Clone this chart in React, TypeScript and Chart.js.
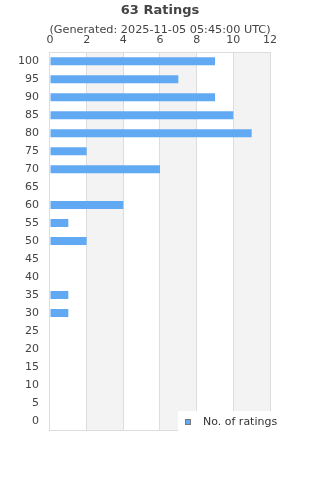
import React, { useEffect, useRef } from "react";
import { Chart, registerables } from "chart.js";

Chart.register(...registerables);

const categories = ["100", "95", "90", "85", "80", "75", "70", "65", "60", "55", "50", "45", "40", "35", "30", "25", "20", "15", "10", "5", "0"];
const counts = [9, 7, 9, 10, 11, 2, 6, 0, 4, 1, 2, 0, 0, 1, 1, 0, 0, 0, 0, 0, 0];
const seriesLabel = "No. of ratings";
const titleText = "63 Ratings";
const subtitleText = "(Generated: 2025-11-05 05:45:00 UTC)";
const xMax = 12;
const xStep = 2;

const FONT = "'DejaVu Sans', sans-serif";
const BAR = "rgb(98,169,243)";

const bandsPlugin = {
  id: "bands",
  beforeDraw(chart: any) {
    const { ctx, chartArea, scales } = chart;
    const x = scales.x;
    ctx.save();
    ctx.fillStyle = "#f3f3f3";
    for (let v = xStep; v < xMax; v += 2 * xStep) {
      const a = x.getPixelForValue(v);
      const b = x.getPixelForValue(v + xStep);
      ctx.fillRect(a, chartArea.top, b - a, chartArea.bottom - chartArea.top);
    }
    ctx.restore();
  },
  afterDraw(chart: any) {
    const { ctx, chartArea, width } = chart;
    ctx.save();
    // titles
    ctx.textAlign = "center";
    ctx.textBaseline = "middle";
    ctx.fillStyle = "#444444";
    ctx.font = `bold 13px ${FONT}`;
    ctx.fillText(titleText, width / 2, 11);
    ctx.font = `11.25px ${FONT}`;
    ctx.fillText(subtitleText, width / 2, 30);
    // bottom border
    ctx.strokeStyle = "#dddddd";
    ctx.lineWidth = 1;
    ctx.beginPath();
    ctx.moveTo(chartArea.left, chartArea.bottom + 0.5);
    ctx.lineTo(chartArea.right, chartArea.bottom + 0.5);
    ctx.stroke();
    // legend
    const label = chart.data.datasets[0].label;
    const bx = chartArea.right - 92;
    const by = chartArea.bottom - 19;
    ctx.fillStyle = "#ffffff";
    ctx.fillRect(bx, by, 108, 24);
    ctx.fillStyle = chart.data.datasets[0].backgroundColor;
    ctx.fillRect(bx + 7, by + 8, 6, 6);
    ctx.strokeStyle = "#777777";
    ctx.strokeRect(bx + 7.5, by + 8.5, 5, 5);
    ctx.fillStyle = "#333333";
    ctx.font = `11px ${FONT}`;
    ctx.textAlign = "left";
    ctx.fillText(label, bx + 25, by + 11.5);
    ctx.restore();
  },
};

export default function App() {
  const ref = useRef<HTMLCanvasElement>(null);
  useEffect(() => {
    if (!ref.current) return;
    const chart = new Chart(ref.current, {
      type: "bar",
      data: {
        labels: categories,
        datasets: [
          {
            label: seriesLabel,
            data: counts,
            backgroundColor: BAR,
            borderWidth: 0,
            inflateAmount: 0,
            barThickness: 8,
          },
        ],
      },
      options: {
        indexAxis: "y",
        animation: false,
        responsive: false,
        maintainAspectRatio: false,
        layout: { padding: { left: 7, right: 50, top: 29, bottom: 50 } },
        plugins: {
          legend: { display: false },
          tooltip: { enabled: false },
          title: { display: false },
        },
        scales: {
          x: {
            position: "top",
            min: 0,
            max: xMax,
            ticks: {
              stepSize: xStep,
              color: "#444444",
              font: { family: FONT, size: 11 },
              padding: 5,
            },
            grid: { color: "#dddddd", drawTicks: false },
            border: { color: "#dddddd" },
          },
          y: {
            ticks: {
              color: "#444444",
              font: { family: FONT, size: 11 },
              padding: 11,
              autoSkip: false,
            },
            grid: { display: false, drawTicks: false },
            border: { color: "#dddddd" },
          },
        },
      },
      plugins: [bandsPlugin],
    });
    return () => chart.destroy();
  }, []);
  return (
    <div style={{ position: "fixed", left: 0, top: 0, width: 320, height: 480, background: "#fff" }}>
      <canvas ref={ref} width={320} height={480} style={{ width: 320, height: 480 }} />
    </div>
  );
}
